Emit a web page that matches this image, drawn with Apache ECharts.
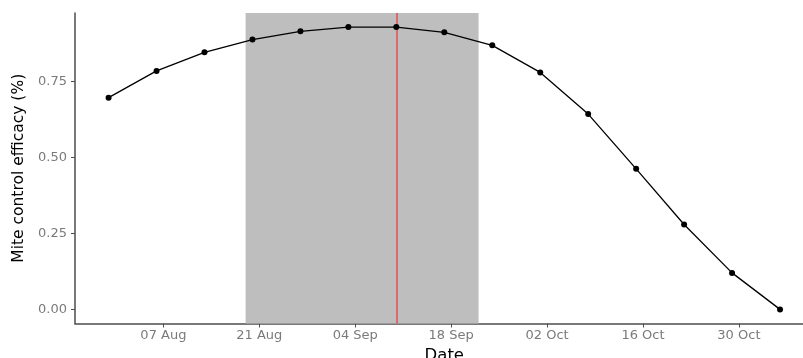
<!DOCTYPE html>
<html>
<head>
<meta charset="utf-8">
<script src="https://cdn.jsdelivr.net/npm/echarts@6/dist/echarts.min.js"></script>
<style>html,body{margin:0;padding:0;background:#fff}#c{width:803px;height:358px}</style>
</head>
<body>
<div id="c"></div>
<script>
// Data (weekly dates, efficacy)
const dates = ['2020-07-30','2020-08-06','2020-08-13','2020-08-20','2020-08-27','2020-09-03','2020-09-10','2020-09-17','2020-09-24','2020-10-01','2020-10-08','2020-10-15','2020-10-22','2020-10-29','2020-11-05'];
const efficacy = [0.696,0.784,0.845,0.887,0.914,0.928,0.928,0.911,0.868,0.779,0.642,0.462,0.279,0.120,0.000];
const xTickDates = ['2020-08-07','2020-08-21','2020-09-04','2020-09-18','2020-10-02','2020-10-16','2020-10-30'];
const yTicks = [0, 0.25, 0.5, 0.75];
const windowStart = '2020-08-19';
const windowEnd = '2020-09-22';
const optimumDate = '2020-09-10';

const MONTHS = ['Jan','Feb','Mar','Apr','May','Jun','Jul','Aug','Sep','Oct','Nov','Dec'];
const ts = s => Date.parse(s + 'T00:00:00Z');
const xs = dates.map(ts);
const span = xs[xs.length-1] - xs[0];
const xMin = xs[0] - span * 0.05;
const xMax = xs[xs.length-1] + span * 0.05;
const yMaxData = Math.max(...efficacy), yMinData = Math.min(...efficacy);
const ySpan = yMaxData - yMinData;
const yMin = yMinData - ySpan * 0.05;
const yMax = yMaxData + ySpan * 0.05;

const chart = echarts.init(document.getElementById('c'), null, {renderer: 'canvas'});
const axisColor = '#4d4d4d';
chart.setOption({
  animation: false,
  grid: {left: 75, width: 738.6, top: 13, bottom: 34.5, containLabel: false, outerBoundsMode: 'none'},
  xAxis: {
    type: 'value', min: xMin, max: xMax,
    name: 'Date', nameLocation: 'middle', nameGap: 19,
    nameTextStyle: {fontFamily: 'DejaVu Sans', fontSize: 16.5, color: '#000'},
    splitLine: {show: false},
    axisLine: {show: true, onZero: false, lineStyle: {color: axisColor, width: 1.5}},
    axisTick: {show: true, length: 4, customValues: xTickDates.map(ts), lineStyle: {color: axisColor, width: 1}},
    axisLabel: {
      customValues: xTickDates.map(ts), margin: 6,
      fontFamily: 'DejaVu Sans', fontSize: 13, color: '#7a7a7a',
      formatter: v => { const d = new Date(v); return String(d.getUTCDate()).padStart(2,'0') + ' ' + MONTHS[d.getUTCMonth()]; }
    }
  },
  yAxis: {
    type: 'value', min: yMin, max: yMax,
    name: 'Mite control efficacy (%)', nameLocation: 'middle', nameGap: 47, nameRotate: 90,
    nameTextStyle: {fontFamily: 'DejaVu Sans', fontSize: 15.5, color: '#000'},
    splitLine: {show: false},
    axisLine: {show: true, onZero: false, lineStyle: {color: axisColor, width: 1.5}},
    axisTick: {show: true, length: 4, customValues: yTicks, lineStyle: {color: axisColor, width: 1}},
    axisLabel: {
      customValues: yTicks, margin: 8,
      fontFamily: 'DejaVu Sans', fontSize: 13, color: '#7a7a7a',
      formatter: v => v.toFixed(2)
    }
  },
  series: [{
    type: 'line',
    data: xs.map((x, i) => [x, efficacy[i]]),
    symbol: 'circle', symbolSize: 6,
    itemStyle: {color: '#000'},
    lineStyle: {color: '#000', width: 1.3},
    z: 5,
    markArea: {
      silent: true,
      itemStyle: {color: '#bebebe'},
      data: [[{xAxis: ts(windowStart)}, {xAxis: ts(windowEnd)}]]
    },
    markLine: {
      silent: true, symbol: 'none', label: {show: false},
      lineStyle: {color: '#e05050', width: 1.5, type: 'solid'},
      data: [{xAxis: ts(optimumDate)}]
    }
  }]
});
</script>
</body>
</html>
